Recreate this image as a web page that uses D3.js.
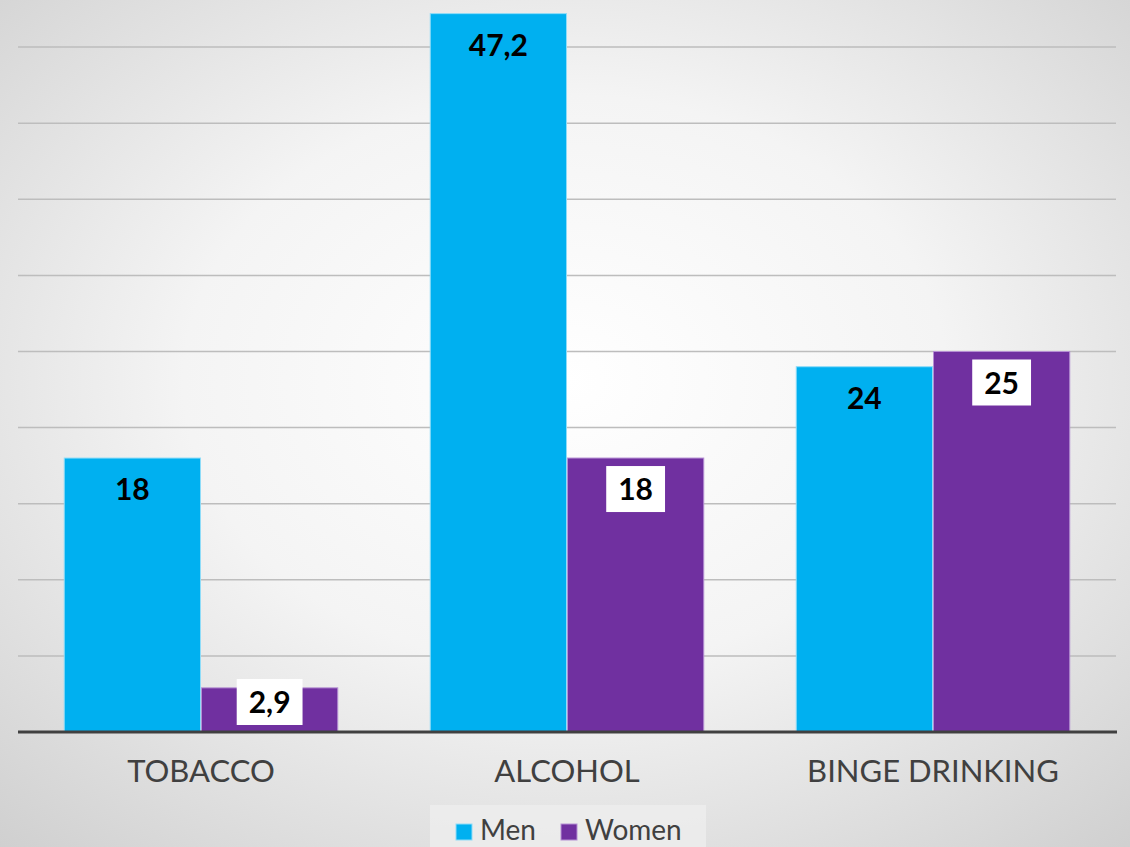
<!DOCTYPE html>
<html>
<head>
<meta charset="utf-8">
<script src="https://cdn.jsdelivr.net/npm/d3@7"></script>
<style>
  html, body { margin: 0; padding: 0; overflow: hidden; }
  svg { display: block; }
</style>
</head>
<body>
<div id="chart"></div>
<script>
var categories = ['TOBACCO', 'ALCOHOL', 'BINGE DRINKING'];
var seriesNames = ['Men', 'Women'];
var menValues = [18, 47.2, 24];
var womenValues = [2.9, 18, 25];
var gridTicks = [5, 10, 15, 20, 25, 30, 35, 40, 45];

var colors = d3.scaleOrdinal().domain(seriesNames).range(['#00B0F0', '#7030A0']);
var strokes = d3.scaleOrdinal().domain(seriesNames).range(['#8fdcf8', '#b58fd3']);

var w = 1130, h = 847;
var fmt = function (v) { return String(v).replace('.', ','); };

var svg = d3.select('#chart').append('svg').attr('width', w).attr('height', h);

var defs = svg.append('defs');
var grad = defs.append('radialGradient').attr('id', 'bg')
  .attr('cx', '50%').attr('cy', '45%').attr('r', '75%');
grad.append('stop').attr('offset', '0%').attr('stop-color', '#ffffff');
grad.append('stop').attr('offset', '45%').attr('stop-color', '#f4f4f4');
grad.append('stop').attr('offset', '100%').attr('stop-color', '#cfcfcf');
svg.append('rect').attr('width', w).attr('height', h).attr('fill', 'url(#bg)');

var x = d3.scaleBand().domain(categories).range([18, 1116]).paddingInner(0.25).paddingOuter(0.125);
var xs = d3.scaleBand().domain(seriesNames).range([0, x.bandwidth()]);
var y = d3.scaleLinear().domain([0, 50]).range([732, -29]);

// gridlines
svg.append('g').selectAll('line').data(gridTicks).enter().append('line')
  .attr('x1', 18).attr('x2', 1116)
  .attr('y1', d => y(d)).attr('y2', d => y(d))
  .attr('stroke', '#bdbdbd').attr('stroke-width', 1.5);

var rows = [];
categories.forEach(function (c, i) {
  rows.push({cat: c, series: 'Men', value: menValues[i]});
  rows.push({cat: c, series: 'Women', value: womenValues[i]});
});

svg.append('g').selectAll('rect').data(rows).enter().append('rect')
  .attr('x', d => x(d.cat) + xs(d.series) + 0.5)
  .attr('y', d => y(d.value))
  .attr('width', xs.bandwidth() - 1)
  .attr('height', d => y(0) - y(d.value))
  .attr('fill', d => colors(d.series))
  .attr('stroke', d => strokes(d.series))
  .attr('stroke-width', 1);

// baseline
svg.append('line').attr('x1', 18).attr('x2', 1117).attr('y1', y(0)).attr('y2', y(0))
  .attr('stroke', '#404040').attr('stroke-width', 3);

// data labels
var labels = svg.append('g').selectAll('g').data(rows).enter().append('g')
  .attr('transform', function (d) {
    var by = Math.min(y(d.value) + 42, y(0) - 19);
    return 'translate(' + (x(d.cat) + xs(d.series) + xs.bandwidth() / 2) + ',' + by + ')';
  });
labels.append('text')
  .attr('text-anchor', 'middle')
  .style('font-family', 'Lato, sans-serif')
  .style('font-weight', 'bold')
  .style('font-size', '30px')
  .attr('fill', '#000')
  .text(d => fmt(d.value));
labels.each(function (d) {
  if (d.series !== 'Women') return;
  var g = d3.select(this);
  var bb = g.select('text').node().getBBox();
  g.insert('rect', 'text')
    .attr('x', bb.x - 12).attr('y', -34)
    .attr('width', bb.width + 24).attr('height', 46)
    .attr('fill', '#fff');
});

// category labels
svg.append('g').selectAll('text').data(categories).enter().append('text')
  .attr('x', d => x(d) + x.bandwidth() / 2)
  .attr('y', 782)
  .attr('text-anchor', 'middle')
  .style('font-family', 'Lato, sans-serif')
  .style('font-size', '31px')
  .attr('fill', '#404040')
  .text(d => d);

// legend
var legend = svg.append('g');
legend.append('rect').attr('x', 430).attr('y', 805).attr('width', 276).attr('height', 50)
  .attr('fill', '#eeeeee').attr('opacity', 0.8);
var legendX = [456, 561];
var items = legend.selectAll('.legend').data(seriesNames).enter().append('g')
  .attr('class', 'legend')
  .attr('transform', (d, i) => 'translate(' + legendX[i] + ',0)');
items.append('rect').attr('x', 0).attr('y', 824).attr('width', 16).attr('height', 16)
  .attr('fill', d => colors(d)).attr('stroke', d => strokes(d)).attr('stroke-width', 1);
items.append('text').attr('x', 24).attr('y', 840)
  .style('font-family', 'Lato, sans-serif')
  .style('font-size', '28px')
  .attr('fill', '#404040')
  .text(d => d);
</script>
</body>
</html>
